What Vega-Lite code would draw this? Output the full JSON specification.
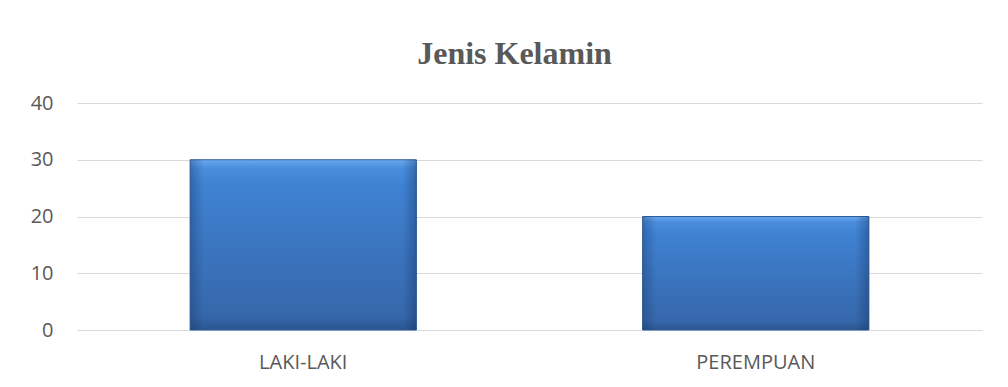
{
  "$schema": "https://vega.github.io/schema/vega-lite/v6.json",
  "width": 905,
  "height": 227,
  "autosize": {"type": "none"},
  "padding": {"left": 77, "top": 103, "right": 26, "bottom": 57},
  "background": "#ffffff",
  "title": {
    "text": "Jenis Kelamin",
    "font": "Liberation Serif",
    "fontSize": 32,
    "fontWeight": "bold",
    "color": "#595959",
    "anchor": "middle",
    "baseline": "alphabetic",
    "offset": -3,
    "dx": -15
  },
  "data": {
    "values": [
      {"kategori": "LAKI-LAKI", "jumlah": 30},
      {"kategori": "PEREMPUAN", "jumlah": 20}
    ]
  },
  "encoding": {
    "x": {
      "field": "kategori",
      "type": "nominal",
      "sort": null,
      "scale": {"paddingInner": 0.5, "paddingOuter": 0.25},
      "axis": {
        "title": null,
        "labelAngle": 0,
        "labelFont": "Open Sans",
        "labelFontSize": 20,
        "labelColor": "#595959",
        "labelPadding": 22,
        "ticks": false,
        "domain": true,
        "domainColor": "#d9d9d9",
        "domainWidth": 1
      }
    },
    "y": {
      "field": "jumlah",
      "type": "quantitative",
      "scale": {"domain": [0, 40]},
      "axis": {
        "title": null,
        "values": [0, 10, 20, 30, 40],
        "labelFont": "Open Sans",
        "labelFontSize": 20,
        "labelColor": "#595959",
        "labelPadding": 24,
        "ticks": false,
        "domain": false,
        "grid": true,
        "gridColor": "#d9d9d9",
        "gridWidth": 1
      }
    }
  },
  "layer": [
    {
      "mark": {
        "type": "bar",
        "stroke": "#2f5d99",
        "strokeWidth": 1,
        "fill": {
          "gradient": "linear",
          "x1": 0, "y1": 0, "x2": 0, "y2": 1,
          "stops": [
            {"offset": 0, "color": "#6aaaf0"},
            {"offset": 0.05, "color": "#4a8ddc"},
            {"offset": 0.15, "color": "#3f82d2"},
            {"offset": 0.92, "color": "#3667ab"},
            {"offset": 0.96, "color": "#305e9c"},
            {"offset": 1, "color": "#2a5590"}
          ]
        }
      }
    },
    {
      "mark": {
        "type": "bar",
        "strokeWidth": 0,
        "fill": {
          "gradient": "linear",
          "x1": 0, "y1": 0, "x2": 1, "y2": 0,
          "stops": [
            {"offset": 0, "color": "rgba(20,50,100,0.35)"},
            {"offset": 0.06, "color": "rgba(20,50,100,0.0)"},
            {"offset": 0.94, "color": "rgba(20,50,100,0.0)"},
            {"offset": 1, "color": "rgba(20,50,100,0.4)"}
          ]
        }
      }
    }
  ],
  "config": {
    "view": {"stroke": null}
  }
}
